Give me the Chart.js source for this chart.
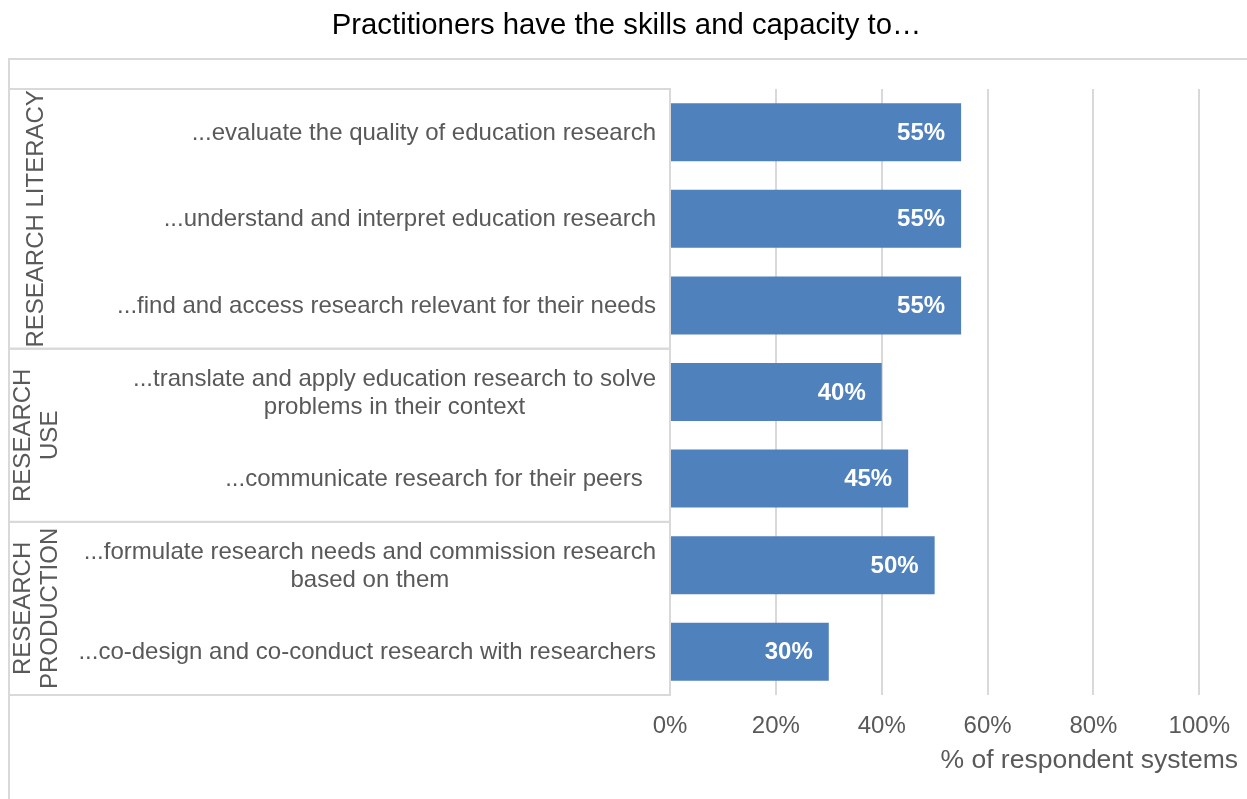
<!DOCTYPE html>
<html>
<head>
<meta charset="utf-8">
<script src="https://cdn.jsdelivr.net/npm/chart.js@4/dist/chart.umd.min.js"></script>
<style>
  html, body { margin: 0; padding: 0; background: #fff; }
  #wrap { width: 1247px; height: 799px; position: relative; }
</style>
</head>
<body>
<div id="wrap"><canvas id="skillsChart"></canvas></div>
<script>
const chartTitle = 'Practitioners have the skills and capacity to…';
const categories = [
    '...evaluate the quality of education research',
    '...understand and interpret education research',
    '...find and access research relevant for their needs',
    ['...translate and apply education research to solve', 'problems in their context'],
    '...communicate research for their peers  ',
    ['...formulate research needs and commission research', 'based on them'],
    '...co-design and co-conduct research with researchers'
];
const values = [55, 55, 55, 40, 45, 50, 30];
const groupNames = [['RESEARCH LITERACY'], ['RESEARCH', 'USE'], ['RESEARCH', 'PRODUCTION']];
const groupSizes = [3, 2, 2];
const xTicks = [0, 20, 40, 60, 80, 100];

const FONT = '"Liberation Sans", Arial, sans-serif';
const GREY = '#595959';
const LINE = '#d9d9d9';

// title, frame, group boxes, category labels and rotated group names
const groupBoxes = {
    id: 'groupBoxes',
    beforeDraw(chart) {
        const c = chart.ctx, a = chart.chartArea;
        c.save();
        c.strokeStyle = LINE;
        c.lineWidth = 2;
        // outer frame
        c.beginPath();
        c.moveTo(9, chart.height);
        c.lineTo(9, 59);
        c.lineTo(chart.width, 59);
        c.stroke();
        // group boxes
        const rowH = (a.bottom - a.top) / categories.length;
        let start = 0;
        groupSizes.forEach(n => {
            const y0 = chart.scales.y.getPixelForValue(start) - rowH / 2;
            const y1 = chart.scales.y.getPixelForValue(start + n - 1) + rowH / 2;
            c.strokeRect(9, y0, a.left - 9, y1 - y0);
            start += n;
        });
        c.restore();
    },
    afterDatasetsDraw(chart) {
        const c = chart.ctx;
        c.save();
        c.fillStyle = '#ffffff';
        c.font = 'bold 24px ' + FONT;
        c.textAlign = 'right';
        c.textBaseline = 'middle';
        chart.getDatasetMeta(0).data.forEach((bar, i) => {
            c.fillText(values[i] + '%', bar.x - 16, bar.y + 1);
        });
        c.restore();
    },
    afterDraw(chart) {
        const c = chart.ctx, a = chart.chartArea;
        const rowH = (a.bottom - a.top) / categories.length;
        c.save();
        c.textBaseline = 'middle';
        c.textAlign = 'center';
        // chart title, centred on the whole picture
        c.fillStyle = '#000000';
        c.font = '29.3px ' + FONT;
        c.fillText(chartTitle, 626.5, 26);
        c.fillStyle = GREY;
        c.font = '24px ' + FONT;
        // category labels: block right aligned, lines centred within it
        categories.forEach((lab, i) => {
            const lines = Array.isArray(lab) ? lab : [lab];
            const w = Math.max(...lines.map(t => c.measureText(t).width));
            const cx = a.left - 14 - w / 2;
            const cy = chart.scales.y.getPixelForValue(i) + 1;
            lines.forEach((t, k) => {
                c.fillText(t, cx, cy + (k - (lines.length - 1) / 2) * 28);
            });
        });
        // group names
        let start = 0;
        groupSizes.forEach((n, g) => {
            const y0 = chart.scales.y.getPixelForValue(start) - rowH / 2;
            const y1 = chart.scales.y.getPixelForValue(start + n - 1) + rowH / 2;
            const lines = groupNames[g];
            c.save();
            c.translate(36.5, (y0 + y1) / 2);
            c.rotate(-Math.PI / 2);
            lines.forEach((t, k) => {
                c.fillText(t, 0, (k - (lines.length - 1) / 2) * 27);
            });
            c.restore();
            start += n;
        });
        // x axis title
        c.textAlign = 'right';
        c.font = '26.5px ' + FONT;
        c.fillText('% of respondent systems', 1238, 761);
        c.restore();
    }
};

const ctx = document.getElementById('skillsChart').getContext('2d');

const skillsChart = new Chart(ctx, {
    type: 'bar',
    data: {
        labels: categories,
        datasets: [{
            data: values,
            backgroundColor: '#4f81bd',
            borderWidth: 0,
            barPercentage: 0.67,
            categoryPercentage: 1
        }]
    },
    options: {
        indexAxis: 'y',
        responsive: true,
        maintainAspectRatio: false,
        animation: false,
        layout: {
            padding: { left: 9, right: 47, top: 89, bottom: 0 }
        },
        scales: {
            x: {
                min: 0,
                max: 100,
                afterBuildTicks: scale => {
                    scale.ticks = xTicks.map(v => ({ value: v }));
                },
                afterFit: scale => { scale.height = 104; },
                grid: { color: LINE, lineWidth: 2, drawTicks: false },
                border: { display: false },
                ticks: {
                    padding: 17,
                    color: GREY,
                    font: { family: FONT, size: 24 },
                    callback: v => v + '%'
                }
            },
            y: {
                afterFit: scale => { scale.width = 661; },
                grid: { display: false, drawTicks: false },
                border: { display: false },
                ticks: { display: false }
            }
        },
        plugins: {
            legend: { display: false },
            tooltip: { enabled: false }
        }
    },
    plugins: [groupBoxes]
});
</script>
</body>
</html>
